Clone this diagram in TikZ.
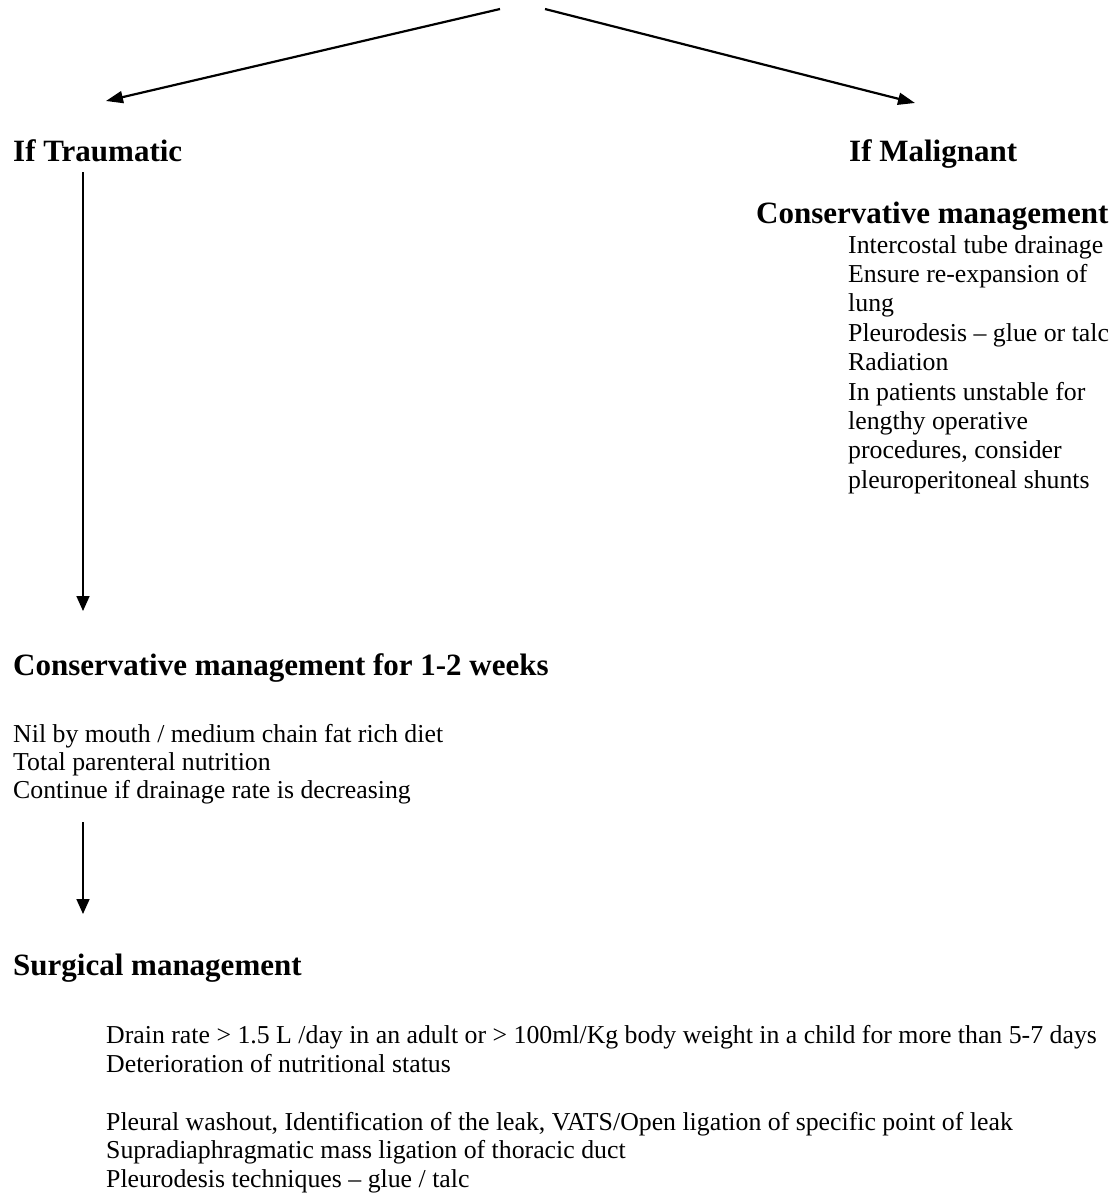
\documentclass[tikz,border=0pt]{standalone}
\usepackage{fontspec}
\setmainfont{Liberation Serif}
\usetikzlibrary{arrows.meta}
\begin{document}
\begin{tikzpicture}[x=1pt,y=-1pt,
  txt/.style={anchor=base west, inner sep=0pt, font=\fontsize{25.8}{30}\selectfont},
  hd/.style={anchor=base west, inner sep=0pt, font=\fontsize{31}{36}\selectfont\bfseries},
  arr/.style={line width=2.2pt, -{Triangle[length=17pt,width=12pt]}},
  varr/.style={line width=1.7pt, -{Triangle[length=15pt,width=13pt]}}]
\useasboundingbox (0,0) rectangle (1112,1195);

% top arrows
\coordinate (topL) at (500,9);
\coordinate (topR) at (545,9);
\coordinate (tipL) at (106,101);
\coordinate (tipR) at (915,103);
\draw[arr] (topL) -- (tipL);
\draw[arr] (topR) -- (tipR);

% headings
\node[hd] (trauma) at (13,161) {If Traumatic};
\node[hd] (malig) at (849,161) {If Malignant};
\node[hd] (consR) at (756,223) {Conservative management};

% right list
\node[txt] (r1) at (848,253) {Intercostal tube drainage};
\node[txt] (r2) at (848,282.4) {Ensure re-expansion of};
\node[txt] (r3) at (848,311.8) {lung};
\node[txt] (r4) at (848,341.2) {Pleurodesis – glue or talc};
\node[txt] (r5) at (848,370.6) {Radiation};
\node[txt] (r6) at (848,400) {In patients unstable for};
\node[txt] (r7) at (848,429.4) {lengthy operative};
\node[txt] (r8) at (848,458.8) {procedures, consider};
\node[txt] (r9) at (848,488.2) {pleuroperitoneal shunts};

% left chain
\node[hd] (consL) at (13,675) {Conservative management for 1-2 weeks};
\node[txt] (l1) at (13,742) {Nil by mouth / medium chain fat rich diet};
\node[txt] (l2) at (13,770) {Total parenteral nutrition};
\node[txt] (l3) at (13,798) {Continue if drainage rate is decreasing};

\node[hd] (surg) at (13,975) {Surgical management};
\node[txt] (s1) at (106,1043) {Drain rate > 1.5 L /day in an adult or > 100ml/Kg body weight in a child for more than 5-7 days};
\node[txt] (s2) at (106,1072) {Deterioration of nutritional status};
\node[txt] (s3) at (106,1130) {Pleural washout, Identification of the leak, VATS/Open ligation of specific point of leak};
\node[txt] (s4) at (106,1158) {Supradiaphragmatic mass ligation of thoracic duct};
\node[txt] (s5) at (106,1187) {Pleurodesis techniques – glue / talc};

% vertical arrows
\coordinate (v1a) at (83,172);
\coordinate (v1b) at (83,611);
\coordinate (v2a) at (83,822);
\coordinate (v2b) at (83,914);
\draw[varr] (v1a) -- (v1b);
\draw[varr] (v2a) -- (v2b);
\end{tikzpicture}
\end{document}
